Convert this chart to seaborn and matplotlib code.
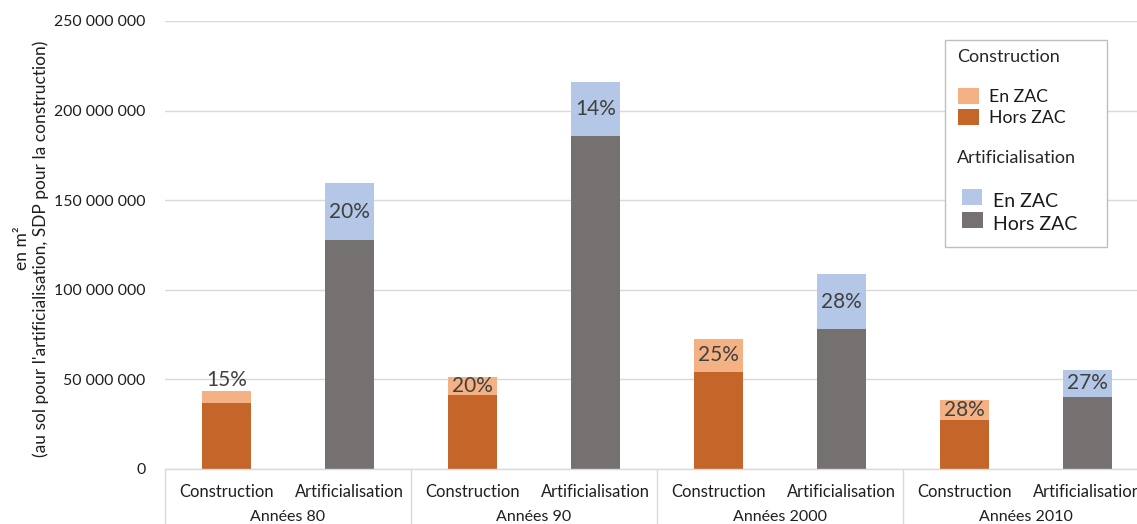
import matplotlib
matplotlib.use("Agg")
import matplotlib.pyplot as plt
from matplotlib.patches import Rectangle
from matplotlib.ticker import FuncFormatter
import pandas as pd
import seaborn as sns

# Surfaces (m²) par décennie : construction (SDP) et artificialisation (au sol)
periodes = ["Années 80", "Années 90", "Années 2000", "Années 2010"]
types = ["Construction", "Artificialisation"]
total_construction = [43_500_000, 51_300_000, 72_400_000, 38_300_000]
total_artificialisation = [159_600_000, 216_000_000, 108_600_000, 55_200_000]
part_zac_construction = [0.15, 0.20, 0.25, 0.28]
part_zac_artificialisation = [0.20, 0.14, 0.28, 0.27]
y_ticks = [0, 50_000_000, 100_000_000, 150_000_000, 200_000_000, 250_000_000]

rows = []
for i, p in enumerate(periodes):
    rows.append(dict(periode=p, type="Construction",
                     total=total_construction[i], part=part_zac_construction[i]))
    rows.append(dict(periode=p, type="Artificialisation",
                     total=total_artificialisation[i], part=part_zac_artificialisation[i]))
df = pd.DataFrame(rows)
df["cle"] = df["periode"] + " | " + df["type"]
df["hors_zac"] = df["total"] * (1 - df["part"])
df["en_zac"] = df["total"] * df["part"]

clair = {"Construction": "#F4B183", "Artificialisation": "#B4C7E7"}
fonce = {"Construction": "#C4652A", "Artificialisation": "#767171"}

sns.set_theme(style="white")
plt.rcParams["font.family"] = ["Lato", "DejaVu Sans"]

W, H = 1137, 524
fig = plt.figure(figsize=(W / 100, H / 100), dpi=100)


def fx(px):
    return px / W


def fy(py):
    return 1 - py / H


ax_left, ax_right, ax_top, ax_bottom = 165, 1149, 21, 469
ax = fig.add_axes([fx(ax_left), fy(ax_bottom), (ax_right - ax_left) / W,
                   (ax_bottom - ax_top) / H])

order = list(df["cle"])
sns.barplot(data=df, x="cle", y="total", hue="type", palette=clair, order=order,
            dodge=False, width=0.4, legend=False, ax=ax, saturation=1, linewidth=0)
sns.barplot(data=df, x="cle", y="hors_zac", hue="type", palette=fonce, order=order,
            dodge=False, width=0.4, legend=False, ax=ax, saturation=1, linewidth=0)

ax.set_xlim(-0.5, len(order) - 0.5)
ax.set_ylim(0, 250_000_000)
ax.set_yticks(y_ticks)
ax.yaxis.set_major_formatter(FuncFormatter(lambda v, _: f"{int(v):,}".replace(",", " ")))
ax.tick_params(axis="y", length=0, pad=14, labelsize=11.4, labelcolor="#1f1f1f")
ax.grid(axis="y", color="#D9D9D9", linewidth=1)
ax.set_axisbelow(True)
for s in ["left", "right", "top"]:
    ax.spines[s].set_visible(False)
ax.spines["bottom"].set_color("#D9D9D9")
ax.spines["bottom"].set_linewidth(1)

# Axe des catégories à deux niveaux
ax.set_xticks(range(len(order)))
ax.set_xticklabels(list(df["type"]), fontsize=11.9, color="#1f1f1f")
ax.tick_params(axis="x", length=0, pad=11)
ax.set_xlabel("")
ax.set_ylabel("")
trans = ax.get_xaxis_transform()
for g, p in enumerate(periodes):
    ax.text(2 * g + 0.5, -0.107, p, transform=trans, ha="center", va="center",
            fontsize=11.5, color="#1f1f1f")
for b in range(len(periodes) + 1):
    ax.plot([2 * b - 0.5, 2 * b - 0.5], [0, -0.13], transform=trans,
            color="#D9D9D9", linewidth=1, clip_on=False)

# Part en ZAC affichée sur le segment clair
for i, r in df.iterrows():
    seg_mid = r["hors_zac"] + r["en_zac"] / 2
    if r["en_zac"] < 8_000_000:
        ax.text(i, r["total"] + 500_000, f"{r['part']:.0%}", ha="center", va="bottom",
                fontsize=15, color="#404040")
    else:
        ax.text(i, seg_mid, f"{r['part']:.0%}", ha="center", va="center",
                fontsize=15, color="#404040")

# Titre de l'axe vertical
fig.text(fx(22), fy(248), "en m²", rotation=90, ha="center", va="center",
         fontsize=12.5, color="#1f1f1f")
fig.text(fx(41), fy(249), "(au sol pour l'artificialisation, SDP pour la construction)",
         rotation=90, ha="center", va="center", fontsize=12.5, color="#1f1f1f")

# Légende
fig.patches.append(Rectangle((fx(945), fy(247)), fx(1107) - fx(945), fy(40) - fy(247),
                             transform=fig.transFigure, facecolor="white",
                             edgecolor="#BFBFBF", linewidth=1, zorder=5))


def carre(x0, y0, x1, y1, c):
    fig.patches.append(Rectangle((fx(x0), fy(y1)), fx(x1) - fx(x0), fy(y0) - fy(y1),
                                 transform=fig.transFigure, facecolor=c,
                                 edgecolor="none", zorder=6))


fig.text(fx(957), fy(57), "Construction", ha="left", va="center", fontsize=13,
         color="#262626", zorder=7)
carre(958, 88, 979, 104, clair["Construction"])
carre(958, 109, 979, 125, fonce["Construction"])
fig.text(fx(989), fy(97), "En ZAC", ha="left", va="center", fontsize=12.7,
         color="#1a1a1a", zorder=7)
fig.text(fx(989), fy(118), "Hors ZAC", ha="left", va="center", fontsize=12.7,
         color="#1a1a1a", zorder=7)
fig.text(fx(957), fy(158), "Artificialisation", ha="left", va="center", fontsize=13,
         color="#262626", zorder=7)
carre(962, 189, 982, 205, clair["Artificialisation"])
carre(962, 212, 983, 228, fonce["Artificialisation"])
fig.text(fx(993), fy(202), "En ZAC", ha="left", va="center", fontsize=14,
         color="#1a1a1a", zorder=7)
fig.text(fx(993), fy(224), "Hors ZAC", ha="left", va="center", fontsize=14,
         color="#1a1a1a", zorder=7)

fig.savefig("out.png", dpi=100)
